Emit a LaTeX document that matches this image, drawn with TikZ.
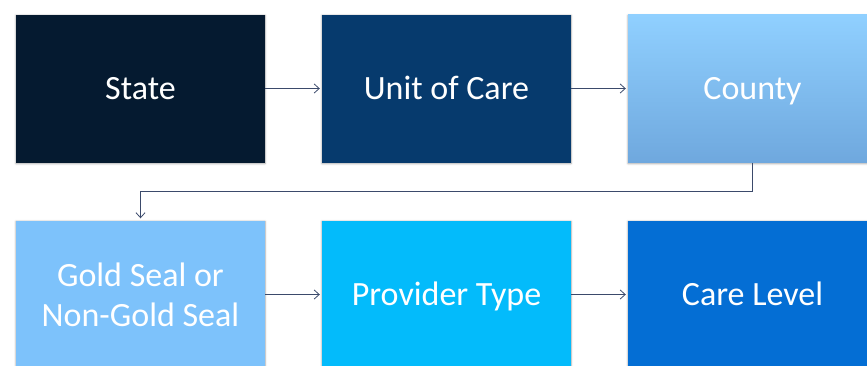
\documentclass[tikz,border=0pt]{standalone}
\usepackage{fontspec}
\setmainfont{Carlito}
\usepackage{tikz}
\usetikzlibrary{positioning, arrows.meta, shadows.blur}
\usepackage{xcolor}

\definecolor{stateblue}{HTML}{051A30}
\definecolor{unitblue}{HTML}{063A6D}
\definecolor{countytop}{HTML}{90D0FF}
\definecolor{countybot}{HTML}{6FA8DE}
\definecolor{goldblue}{HTML}{7DC2FB}
\definecolor{providerblue}{HTML}{03BBFB}
\definecolor{careblue}{HTML}{046ED4}
\definecolor{linkgray}{HTML}{3B4A6B}

\begin{document}
\begin{tikzpicture}[
    x=1pt, y=-1pt,
    box/.style={rectangle, minimum width=249pt, minimum height=148pt,
        text=white, align=center, font=\fontsize{34}{40}\selectfont,
        blur shadow={shadow xshift=0pt, shadow yshift=-1pt, shadow blur steps=4, shadow blur radius=2pt}},
    oneline/.style={box, text height=22pt, text depth=0pt},
    link/.style={draw=linkgray, line width=0.8pt, -{Straight Barb[length=5pt, width=9pt]}, shorten >=2pt}
]
    \useasboundingbox (0,0) rectangle (867,365);
    \clip (0,0) rectangle (867,365);
    % Top row: State, Unit of Care, County
    \node[oneline, fill=stateblue] (state) at (140.5,88.5) {State};
    \node[oneline, fill=unitblue] (unit) at (446.5,88.5) {Unit of Care};
    \node[oneline, top color=countytop, bottom color=countybot] (county) at (752.5,88.5) {County};
    % Bottom row: Gold Seal, Provider Type, Care Level
    \node[box, fill=goldblue] (gold) at (140.5,294.5) {Gold Seal or\\Non-Gold Seal};
    \node[oneline, fill=providerblue] (provider) at (446.5,294.5) {Provider Type};
    \node[oneline, fill=careblue] (care) at (752.5,294.5) {Care Level};

    \draw[link] (state) -- (unit);
    \draw[link] (unit) -- (county);
    \draw[link] (county.south) -- ++(0,29) -| (gold.north);
    \draw[link] (gold) -- (provider);
    \draw[link] (provider) -- (care);
\end{tikzpicture}
\end{document}
